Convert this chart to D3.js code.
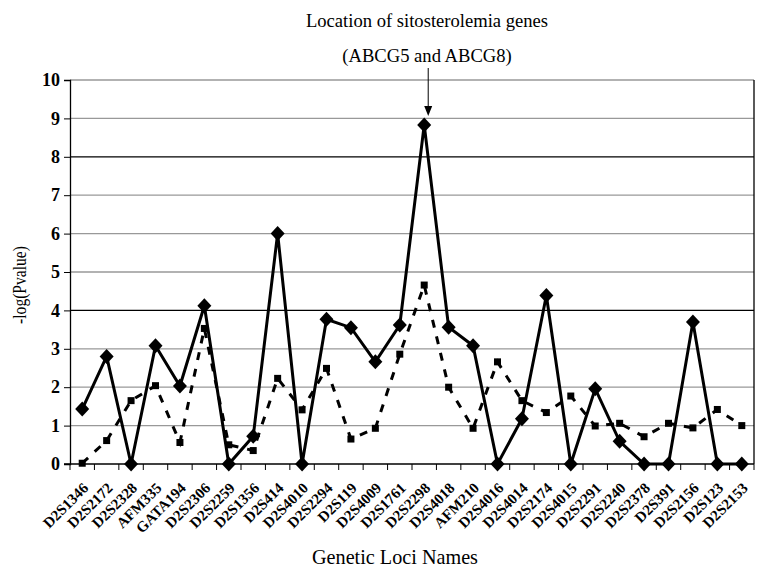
<!DOCTYPE html>
<html><head><meta charset="utf-8">
<script src="https://cdn.jsdelivr.net/npm/d3@7"></script>
<style>body{margin:0;background:#fff} text{font-family:"Liberation Serif","DejaVu Serif",serif}</style>
</head><body>
<svg id="c" width="765" height="574"></svg>
<script>
const categories = ["D2S1346","D2S2172","D2S2328","AFM335","GATA194","D2S2306","D2S2259","D2S1356","D2S414","D2S4010","D2S2294","D2S119","D2S4009","D2S1761","D2S2298","D2S4018","AFM210","D2S4016","D2S4014","D2S2174","D2S4015","D2S2291","D2S2240","D2S2378","D2S391","D2S2156","D2S123","D2S2153"];
const solidValues = [1.43,2.8,0,3.08,2.03,4.12,0,0.72,6.0,0,3.77,3.55,2.66,3.62,8.83,3.56,3.08,0,1.18,4.39,0,1.96,0.59,0,0,3.7,0,0];
const dashedValues = [0.02,0.61,1.65,2.04,0.56,3.53,0.5,0.35,2.23,1.41,2.49,0.65,0.93,2.86,4.66,2.0,0.93,2.66,1.65,1.34,1.77,0.99,1.06,0.71,1.06,0.94,1.42,1.0];
const yTicks = [0,1,2,3,4,5,6,7,8,9,10];
const darkGrid = [4,8];

const svg = d3.select("#c");
const L = 70, R = 754, T = 80, B = 464;
const x = d3.scaleBand().domain(categories).range([L, R]);
const y = d3.scaleLinear().domain([0, 10]).range([B, T]);

// gridlines
svg.append("g").selectAll("line").data(yTicks.filter(d => d > 0)).join("line")
  .attr("x1", L).attr("x2", R).attr("y1", d => y(d)).attr("y2", d => y(d))
  .attr("stroke", d => darkGrid.includes(d) ? "#000" : "#999").attr("stroke-width", 1.3);
// right border
svg.append("line").attr("x1", R).attr("x2", R).attr("y1", T).attr("y2", B).attr("stroke", "#000").attr("stroke-width", 1.3);

// y axis
const yAxis = svg.append("g").attr("transform", `translate(${L},0)`)
  .call(d3.axisLeft(y).tickValues(yTicks).tickSize(6).tickPadding(4).tickFormat(d3.format("d")));
yAxis.select(".domain").attr("stroke", "#000").attr("stroke-width", 1.3);
yAxis.selectAll("line").attr("stroke", "#000");
yAxis.selectAll("text").style("font-family", "'Liberation Serif',serif").attr("font-weight", "bold").attr("font-size", 18).attr("fill", "#000");

// x axis ticks between categories
const boundaries = d3.range(categories.length + 1).map(i => L + i * x.step());
svg.append("line").attr("x1", L - 6).attr("x2", R).attr("y1", B).attr("y2", B).attr("stroke", "#000").attr("stroke-width", 1.3);
svg.append("g").selectAll("line").data(boundaries).join("line")
  .attr("x1", d => d).attr("x2", d => d).attr("y1", B).attr("y2", B + 6).attr("stroke", "#000").attr("stroke-width", 1);
svg.append("g").selectAll("text").data(categories).join("text")
  .attr("transform", d => `translate(${x(d) + x.bandwidth() / 2 + 7},${B + 25}) rotate(-45)`)
  .attr("text-anchor", "end").attr("font-weight", "bold").attr("font-size", 15)
  .text(d => d);

const cx = d => x(d) + x.bandwidth() / 2;

// dashed series
const line = vals => d3.line().x((d, i) => cx(categories[i])).y(d => y(d))(vals);
svg.append("path").attr("d", line(dashedValues)).attr("fill", "none").attr("stroke", "#000")
  .attr("stroke-width", 3).attr("stroke-dasharray", "8,9");
svg.append("g").selectAll("rect").data(dashedValues).join("rect")
  .attr("x", (d, i) => cx(categories[i]) - 3.5).attr("y", d => y(d) - 3.5)
  .attr("width", 7).attr("height", 7).attr("fill", "#000");

// solid series
svg.append("path").attr("d", line(solidValues)).attr("fill", "none").attr("stroke", "#000").attr("stroke-width", 3);
svg.append("g").selectAll("path").data(solidValues).join("path")
  .attr("transform", (d, i) => `translate(${cx(categories[i])},${y(d)})`)
  .attr("d", "M0,-7.5L7,0L0,7.5L-7,0Z").attr("fill", "#000");

// annotation
const peakX = cx("D2S2298");
svg.append("text").attr("x", 427).attr("y", 27).attr("text-anchor", "middle")
  .attr("font-size", 18.6).text("Location of sitosterolemia genes");
svg.append("text").attr("x", 427).attr("y", 62).attr("text-anchor", "middle")
  .attr("font-size", 18.6).text("(ABCG5 and ABCG8)");
svg.append("line").attr("x1", peakX + 4).attr("x2", peakX + 4).attr("y1", 68).attr("y2", 107).attr("stroke", "#000").attr("stroke-width", 1);
svg.append("path").attr("d", `M${peakX},106 L${peakX + 8},106 L${peakX + 4},116 Z`).attr("fill", "#000");

// axis titles
svg.append("text").attr("transform", "translate(26,285) rotate(-90) scale(0.82,1)").attr("text-anchor", "middle")
  .attr("font-size", 19).text("-log(Pvalue)");
svg.append("text").attr("x", 395).attr("y", 564).attr("text-anchor", "middle")
  .attr("font-size", 20.2).text("Genetic Loci Names");
</script>
</body></html>
